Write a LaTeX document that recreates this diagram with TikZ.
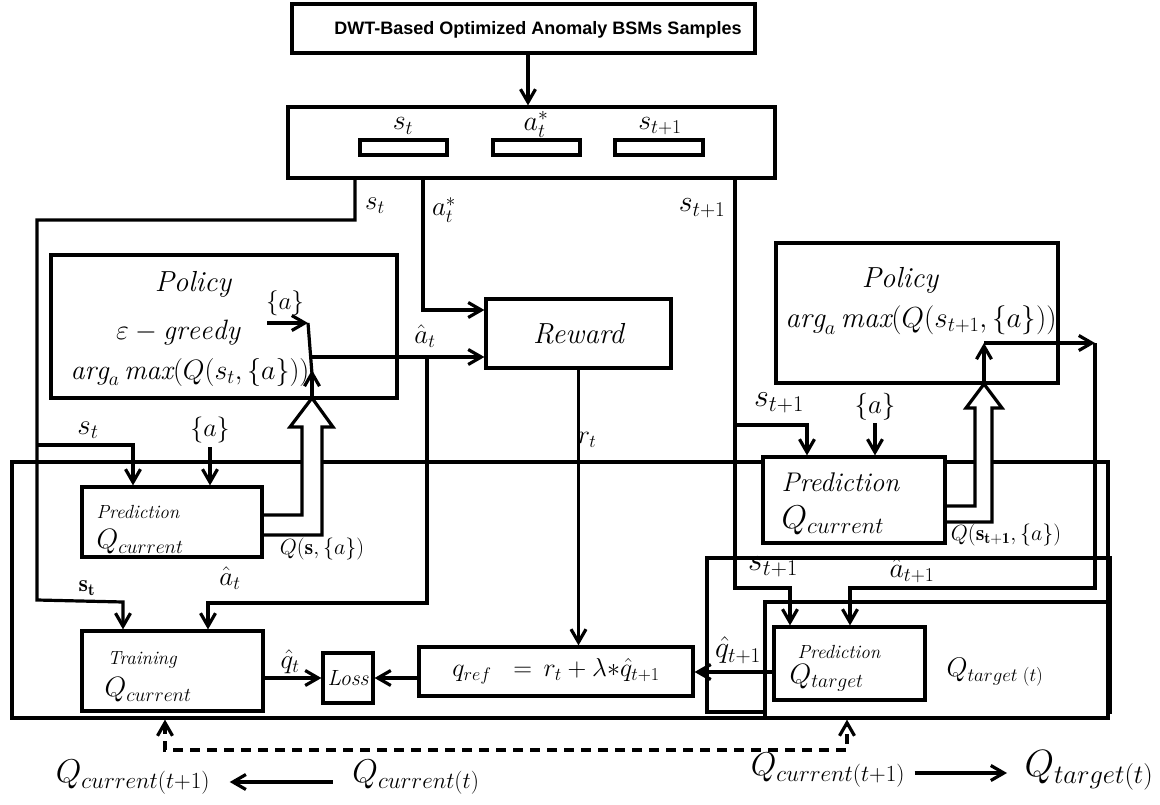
\RequirePackage{fix-cm}
\documentclass[tikz,border=0pt]{standalone}
\usepackage{fontspec}
\newfontfamily\titlefont{Liberation Sans}
\usetikzlibrary{arrows.meta,calc}
\newcommand\setfs[1]{\fontsize{#1}{#1}\selectfont}

\begin{document}
\begin{tikzpicture}[x=1pt,y=-1pt,line width=3.2pt,
  box/.style={draw,fill=white,inner sep=0pt},
  frame/.style={draw,inner sep=0pt},
  txt/.style={inner sep=0pt},
  arr/.style={-{Straight Barb[length=13pt,width=15pt]}},
  dbl/.style={{Straight Barb[length=13pt,width=15pt]}-{Straight Barb[length=13pt,width=15pt]}},
  dsh/.style={dash pattern=on 10pt off 7pt}]

\useasboundingbox (0,0) rectangle (1160,805);

% ---- outer frames ----
\node[frame,minimum width=1096pt,minimum height=256pt] (frameL) at (560,590) {};
\node[frame,minimum width=403pt,minimum height=154pt] (frameA) at (908.5,635) {};
\node[box,minimum width=343pt,minimum height=116pt] (frameB) at (936.5,660) {};

% ---- hollow arrows carrying Q values ----
\draw[fill=white] (262,515) -- (302,515) -- (302,427) -- (290,427) -- (312,398)
  -- (333,427) -- (322,427) -- (322,535) -- (262,535);
\draw[fill=white] (945,506) -- (975,506) -- (975,408) -- (966,408) -- (984,384)
  -- (1002,408) -- (992,408) -- (992,522) -- (945,522);

% ---- sample source and replay memory ----
\node[box,minimum width=463pt,minimum height=49pt] (src) at (523.5,28.5) {};
\node[txt,font=\titlefont\bfseries\setfs{18}] (srctxt) at (538,30) {DWT-Based Optimized Anomaly BSMs Samples};
\node[box,minimum width=487pt,minimum height=71pt] (mem) at (531.5,142.5) {};
\node[box,minimum width=87pt,minimum height=15pt] (slotS) at (403.5,147.5) {};
\node[box,minimum width=87pt,minimum height=15pt] (slotA) at (536.5,147.5) {};
\node[box,minimum width=88pt,minimum height=15pt] (slotS1) at (659,147.5) {};
\node[txt,font=\setfs{28}] (lslotS) at (403,126) {$s_t$};
\node[txt,font=\setfs{28}] (lslotA) at (536,124) {$a_t^*$};
\node[txt,font=\setfs{28}] (lslotS1) at (660,126) {$s_{t+1}$};

% ---- policies and reward ----
\node[box,minimum width=346pt,minimum height=143pt] (polL) at (224,326.5) {};
\node[txt,font=\setfs{29}\itshape] (polLa) at (193,284) {Policy};
\node[txt,font=\setfs{28}] (polLb) at (178,333) {$\varepsilon - \mathit{greedy}$};
\node[txt,font=\setfs{28}] (polLc) at (190,372) {$\mathit{arg}_a\,\mathit{max}(Q(s_t,\{a\}))$};
\node[txt,font=\setfs{25}] (polLd) at (285,303) {$\{a\}$};

\node[box,minimum width=185pt,minimum height=69pt,font=\setfs{29}\itshape] (reward) at (578.5,333.5) {Reward};

\node[box,minimum width=282pt,minimum height=140pt] (polR) at (917,313) {};
\node[txt,font=\setfs{29}\itshape] (polRa) at (900,280) {Policy};
\node[txt,font=\setfs{29}] (polRb) at (921,320) {$\mathit{arg}_a\,\mathit{max}(Q(s_{t+1},\{a\}))$};

% ---- networks ----
\node[box,minimum width=180pt,minimum height=70pt] (predL) at (172,522) {};
\node[txt,anchor=west,font=\setfs{19}\itshape] (predLa) at (95,512) {Prediction};
\node[txt,anchor=west,font=\setfs{28}] (predLb) at (95,542) {$Q_{current}$};

\node[box,minimum width=181pt,minimum height=80pt] (trainL) at (172.5,671) {};
\node[txt,anchor=west,font=\setfs{19}\itshape] (trainLa) at (106,660) {Training};
\node[txt,anchor=west,font=\setfs{28}] (trainLb) at (103,690) {$Q_{current}$};

\node[box,minimum width=50pt,minimum height=50pt,font=\setfs{22}\itshape] (loss) at (348,678) {Loss};
\node[box,minimum width=274pt,minimum height=49pt,font=\setfs{26}] (qref) at (556,671.5)
  {$q_{ref}\;\;=\,r_t+\lambda{*}\hat{q}_{t+1}$};

\node[box,minimum width=182pt,minimum height=86pt] (predR) at (854,500) {};
\node[txt,anchor=west,font=\setfs{27}\itshape] (predRa) at (780,482) {Prediction};
\node[txt,anchor=west,font=\setfs{33}] (predRb) at (780,520) {$Q_{current}$};

\node[box,minimum width=151pt,minimum height=73pt] (tgt) at (849.5,663.5) {};
\node[txt,anchor=west,font=\setfs{19}\itshape] (tgta) at (796,652) {Prediction};
\node[txt,anchor=west,font=\setfs{28}] (tgtb) at (788,678) {$Q_{target}$};
\node[txt,anchor=west,font=\setfs{27}] (tgtlbl) at (945,672) {$Q_{target\;(t)}$};

% ---- connectors ----
\draw[arr] (src.south -| 528,0) -- (mem.north -| 528,0);

\draw[arr] (mem.south -| 355,0) |- (37,220) -- (37,600) -- (123,602) -- (trainL.north -| 123,0);
\draw[arr] (37,445) -| (predL.north -| 133,0);
\draw[arr] (210,447) -- (predL.north -| 210,0);

\draw[arr] (mem.south -| 423,0) |- (reward.west |- 0,310);

\draw[arr] (polL.south -| 312,0) -- (312,370);
\draw[arr] (267,323) -- (308,323);
\draw (308,323) -- (312,374);
\draw[arr] (312,357) -- (reward.west |- 0,357);
\draw[arr] (427,357) |- (208,603) -- (trainL.north -| 208,0);

\draw[arr] (reward.south) -- (qref.north -| reward.south);
\draw[arr] (trainL.east |- loss.west) -- (loss.west);
\draw[arr] (qref.west |- loss.east) -- (loss.east);
\draw[arr] (tgt.west |- 0,672) -- (qref.east |- 0,672);

\draw[arr] (mem.south -| 735,0) |- (790,588) -- (tgt.north -| 790,0);
\draw[arr] (735,425) -| (predR.north -| 807,0);
\draw[arr] (875,423) -- (predR.north -| 875,0);

\draw[arr] (polR.south -| 984,0) -- (984,343);
\draw[arr] (984,343) -- (1095,343);
\draw[arr] (1095,343) |- (850,588) -- (tgt.north -| 850,0);

\draw[dsh,dbl] (frameL.south -| 165,0) |- (847,750) -- (frameB.south -| 847,0);

% ---- connector labels ----
\node[txt,font=\setfs{27}] (ls1) at (375,206) {$s_t$};
\node[txt,font=\setfs{27}] (la1) at (444,210) {$a_t^*$};
\node[txt,font=\setfs{30}] (ls2) at (702,208) {$s_{t+1}$};
\node[txt,font=\setfs{27}] (lah1) at (425,336) {$\hat{a}_t$};
\node[txt,font=\setfs{26}] (lr) at (587,440) {$r_t$};
\node[txt,font=\setfs{29}] (ls3) at (88,430) {$s_t$};
\node[txt,font=\setfs{26}] (la2) at (210,430) {$\{a\}$};
\node[txt,font=\setfs{22}] (lq1) at (322,549) {$Q(\mathbf{s},\{a\})$};
\node[txt,font=\setfs{27}] (lah2) at (230,578) {$\hat{a}_t$};
\node[txt,font=\setfs{24}] (ls4) at (87,588) {$\mathbf{s}_{\mathbf{t}}$};
\node[txt,font=\setfs{27}] (lqh) at (290,662) {$\hat{q}_t$};
\node[txt,font=\setfs{32}] (ls5) at (779,403) {$s_{t+1}$};
\node[txt,font=\setfs{27}] (la3) at (875,407) {$\{a\}$};
\node[txt,font=\setfs{22}] (lq2) at (1006,535) {$Q(\mathbf{s_{t+1}},\{a\})$};
\node[txt,font=\setfs{32}] (ls6) at (773,567) {$s_{t+1}$};
\node[txt,font=\setfs{28}] (lah3) at (912,570) {$\hat{a}_{t+1}$};
\node[txt,font=\setfs{30}] (lqh2) at (738,650) {$\hat{q}_{t+1}$};

% ---- network update legend ----
\node[txt,font=\setfs{33}] (qc1L) at (133,777) {$Q_{current(t+1)}$};
\node[txt,font=\setfs{33}] (qcL) at (416,777) {$Q_{current(t)}$};
\draw[arr] ($(qcL.west)+(-18,5)$) -- ($(qc1L.east)+(18,5)$);
\node[txt,font=\setfs{33}] (qc1R) at (828,770) {$Q_{current(t+1)}$};
\node[txt,anchor=west,font=\setfs{38}] (qtR) at (1023,770) {$Q_{target(t)}$};
\draw[arr] ($(qc1R.east)+(8,3)$) -- ($(qtR.west)+(-16,3)$);
\end{tikzpicture}
\end{document}
